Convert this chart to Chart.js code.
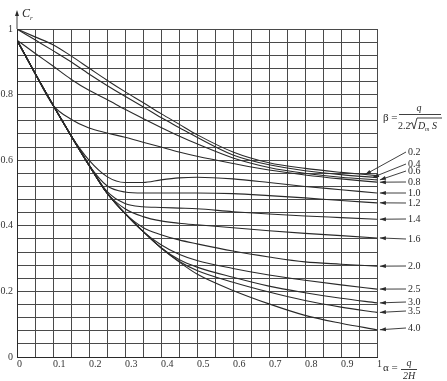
<!DOCTYPE html>
<html>
<head>
<meta charset="utf-8">
<script src="https://cdn.jsdelivr.net/npm/chart.js@4"></script>
<style>
body { margin: 0; background: #fff; }
canvas { display: block; }
</style>
</head>
<body>
<canvas id="grafico" width="447" height="381"></canvas>
<script>
// alpha values (x) shared by every curve
const xs = [0, 0.05, 0.1, 0.15, 0.2, 0.25, 0.3, 0.35, 0.4, 0.45, 0.5, 0.6, 0.7, 0.8, 0.9, 1];

const betas = ['0.2', '0.4', '0.6', '0.8', '1.0', '1.2', '1.4', '1.6', '2.0', '2.5', '3.0', '3.5', '4.0'];

const c02 = [1, 0.976, 0.952, 0.918, 0.881, 0.844, 0.809, 0.776, 0.742, 0.71, 0.678, 0.625, 0.592, 0.575, 0.563, 0.553];
const c04 = [1, 0.967, 0.934, 0.9, 0.863, 0.828, 0.795, 0.763, 0.73, 0.7, 0.67, 0.616, 0.586, 0.568, 0.556, 0.547];
const c06 = [0.966, 0.926, 0.887, 0.847, 0.813, 0.785, 0.755, 0.727, 0.7, 0.674, 0.65, 0.607, 0.578, 0.56, 0.548, 0.54];
const c08 = [0.966, 0.865, 0.768, 0.725, 0.698, 0.683, 0.67, 0.655, 0.64, 0.625, 0.612, 0.59, 0.57, 0.555, 0.543, 0.533];
const c10 = [0.966, 0.865, 0.768, 0.675, 0.6, 0.55, 0.532, 0.532, 0.54, 0.546, 0.548, 0.543, 0.532, 0.52, 0.51, 0.5];
const c12 = [0.966, 0.865, 0.768, 0.675, 0.585, 0.522, 0.503, 0.5, 0.5, 0.5, 0.5, 0.498, 0.492, 0.485, 0.477, 0.47];
const c14 = [0.966, 0.865, 0.768, 0.675, 0.585, 0.505, 0.468, 0.458, 0.456, 0.454, 0.452, 0.443, 0.436, 0.43, 0.425, 0.42];
const c16 = [0.966, 0.865, 0.768, 0.675, 0.585, 0.5, 0.452, 0.428, 0.415, 0.408, 0.403, 0.394, 0.385, 0.377, 0.37, 0.363];
const c20 = [0.966, 0.865, 0.768, 0.675, 0.585, 0.5, 0.438, 0.395, 0.373, 0.357, 0.345, 0.323, 0.305, 0.29, 0.283, 0.277];
const c25 = [0.966, 0.865, 0.768, 0.675, 0.585, 0.5, 0.438, 0.383, 0.342, 0.313, 0.294, 0.27, 0.25, 0.234, 0.22, 0.207];
const c30 = [0.966, 0.865, 0.768, 0.675, 0.585, 0.5, 0.438, 0.383, 0.333, 0.297, 0.274, 0.243, 0.216, 0.196, 0.179, 0.165];
const c35 = [0.966, 0.865, 0.768, 0.675, 0.585, 0.5, 0.438, 0.383, 0.333, 0.292, 0.264, 0.228, 0.198, 0.172, 0.152, 0.136];
const c40 = [0.966, 0.865, 0.768, 0.675, 0.585, 0.5, 0.438, 0.383, 0.333, 0.29, 0.253, 0.203, 0.162, 0.127, 0.103, 0.083];

const curvas = [c02, c04, c06, c08, c10, c12, c14, c16, c20, c25, c30, c35, c40];

// where each beta label sits (px) and where its arrow touches the curve (alpha)
const etiquetaY = [152, 164, 171, 182, 193, 203, 219, 239, 266, 289, 302, 311, 328];
const puntaX = [0.967, 0.989, 1.008, 1.008, 1.008, 1.008, 1.008, 1.008, 1.008, 1.008, 1.008, 1.008, 1.008];

const tinta = '#2a2a2a';
const serif = '"Liberation Serif", "DejaVu Serif", serif';

function valorEn(serie, x) {
    if (x >= xs[xs.length - 1]) return serie[serie.length - 1];
    for (let i = 1; i < xs.length; i++) {
        if (x <= xs[i]) {
            const t = (x - xs[i - 1]) / (xs[i] - xs[i - 1]);
            return serie[i - 1] + t * (serie[i] - serie[i - 1]);
        }
    }
}

function flecha(ctx, x1, y1, x2, y2) {
    ctx.beginPath();
    ctx.moveTo(x1, y1);
    ctx.lineTo(x2, y2);
    ctx.stroke();
    const ang = Math.atan2(y2 - y1, x2 - x1);
    ctx.beginPath();
    ctx.moveTo(x2, y2);
    ctx.lineTo(x2 - 6 * Math.cos(ang) + 2 * Math.sin(ang), y2 - 6 * Math.sin(ang) - 2 * Math.cos(ang));
    ctx.lineTo(x2 - 6 * Math.cos(ang) - 2 * Math.sin(ang), y2 - 6 * Math.sin(ang) + 2 * Math.cos(ang));
    ctx.closePath();
    ctx.fill();
}

const anotaciones = {
    id: 'anotaciones',
    afterDraw(chart) {
        const ctx = chart.ctx;
        const xS = chart.scales.x;
        const yS = chart.scales.y;
        const area = chart.chartArea;
        ctx.save();
        ctx.strokeStyle = tinta;
        ctx.fillStyle = tinta;
        ctx.lineWidth = 0.9;

        // y axis arrow and C_r
        ctx.beginPath();
        ctx.moveTo(area.left, area.top);
        ctx.lineTo(area.left, 13);
        ctx.stroke();
        ctx.beginPath();
        ctx.moveTo(area.left, 10);
        ctx.lineTo(area.left - 2, 16);
        ctx.lineTo(area.left + 2, 16);
        ctx.closePath();
        ctx.fill();
        ctx.textBaseline = 'alphabetic';
        ctx.textAlign = 'left';
        ctx.font = 'italic 12px ' + serif;
        ctx.fillText('C', 22, 17);
        ctx.font = 'italic 7px ' + serif;
        ctx.fillText('r', 30, 20);

        // beta formula
        ctx.font = '11px ' + serif;
        ctx.fillText('\u03b2 =', 383, 121);
        ctx.font = 'italic 10px ' + serif;
        ctx.textAlign = 'center';
        ctx.fillText('q', 419, 111);
        ctx.beginPath();
        ctx.moveTo(399, 114.5);
        ctx.lineTo(441, 114.5);
        ctx.stroke();
        ctx.textAlign = 'left';
        ctx.font = '10px ' + serif;
        ctx.fillText('2.2', 398, 129);
        ctx.beginPath();
        ctx.moveTo(410, 124);
        ctx.lineTo(412, 122.5);
        ctx.lineTo(414, 129);
        ctx.lineTo(417, 118);
        ctx.lineTo(442, 118);
        ctx.stroke();
        ctx.font = 'italic 10px ' + serif;
        ctx.fillText('D', 418, 129);
        ctx.font = 'italic 6px ' + serif;
        ctx.fillText('m', 425, 131);
        ctx.font = 'italic 10px ' + serif;
        ctx.fillText('S', 432, 129);

        // alpha formula
        ctx.font = '11px ' + serif;
        ctx.fillText('\u03b1 =', 383, 371);
        ctx.font = 'italic 10px ' + serif;
        ctx.textAlign = 'center';
        ctx.fillText('q', 409, 366);
        ctx.beginPath();
        ctx.moveTo(401, 369.5);
        ctx.lineTo(417, 369.5);
        ctx.stroke();
        ctx.fillText('2H', 409, 379);

        // beta labels with arrows
        ctx.font = '10px ' + serif;
        ctx.textAlign = 'left';
        ctx.textBaseline = 'middle';
        betas.forEach((b, i) => {
            const tx = xS.getPixelForValue(puntaX[i]);
            const ty = yS.getPixelForValue(valorEn(curvas[i], puntaX[i]));
            flecha(ctx, 406, etiquetaY[i], tx, ty);
            ctx.fillText(b, 408, etiquetaY[i]);
        });
        ctx.restore();
    }
};

const datasets = curvas.map((serie, i) => ({
    label: '\u03b2 = ' + betas[i],
    data: xs.map((x, j) => ({ x: x, y: serie[j] })),
    borderColor: tinta,
    borderWidth: 1.1,
    pointRadius: 0,
    fill: false,
    cubicInterpolationMode: 'monotone'
}));

const ctx = document.getElementById('grafico').getContext('2d');
new Chart(ctx, {
    type: 'line',
    data: { datasets: datasets },
    options: {
        responsive: false,
        animation: false,
        layout: { padding: { top: 29, right: 70, left: 0, bottom: 0 } },
        plugins: {
            legend: { display: false },
            tooltip: { enabled: false }
        },
        scales: {
            x: {
                type: 'linear',
                min: 0,
                max: 1,
                afterFit: s => { s.height = 24; },
                grid: { color: '#4a4a4a', lineWidth: 1, drawTicks: false },
                border: { color: '#2a2a2a', width: 1 },
                ticks: {
                    stepSize: 0.05,
                    autoSkip: false,
                    maxRotation: 0,
                    align: 'start',
                    padding: 1,
                    color: '#333',
                    font: { family: serif, size: 10 },
                    callback: v => {
                        const k = Math.round(v * 10);
                        if (Math.abs(v * 10 - k) > 1e-6) return '';
                        return k === 0 ? '0' : k === 10 ? '1' : (k / 10).toFixed(1);
                    }
                }
            },
            y: {
                type: 'linear',
                min: 0,
                max: 1,
                afterFit: s => { s.width = 17; },
                grid: { color: '#4a4a4a', lineWidth: 1, drawTicks: false },
                border: { color: '#2a2a2a', width: 1 },
                ticks: {
                    stepSize: 0.04,
                    autoSkip: false,
                    padding: 4,
                    color: '#333',
                    font: { family: serif, size: 10 },
                    callback: v => {
                        const k = Math.round(v * 5);
                        if (Math.abs(v * 5 - k) > 1e-6) return '';
                        return k === 0 ? '0' : k === 5 ? '1' : (k / 5).toFixed(1);
                    }
                }
            }
        }
    },
    plugins: [anotaciones]
});
</script>
</body>
</html>
